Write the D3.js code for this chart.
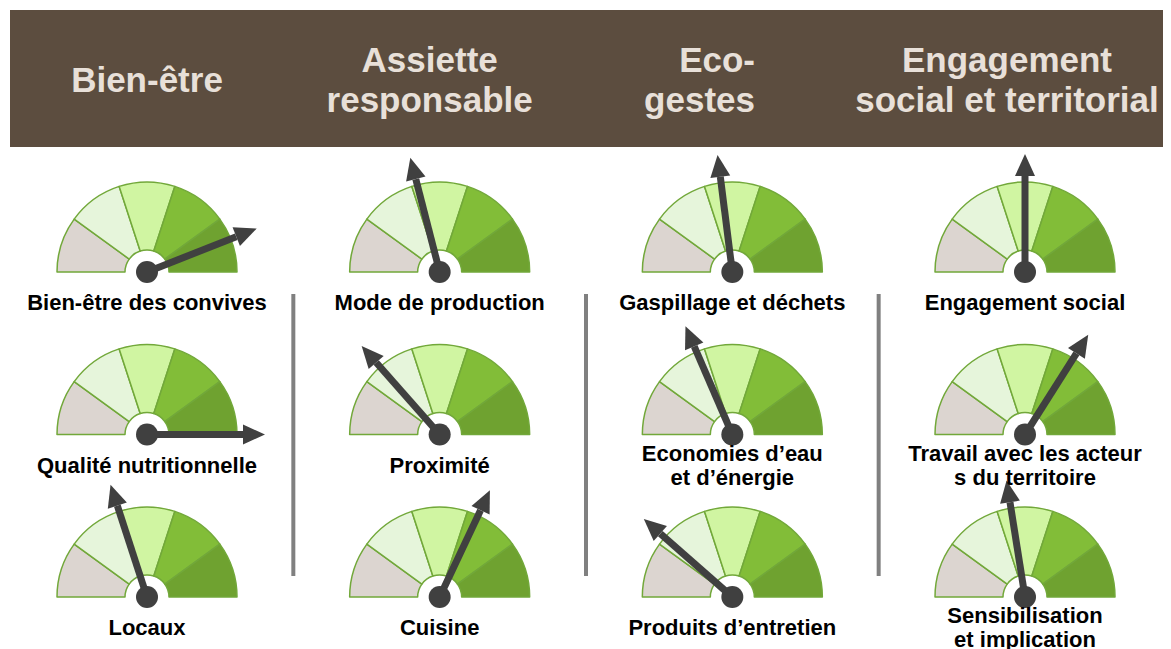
<!DOCTYPE html>
<html>
<head>
<meta charset="utf-8">
<script src="https://cdn.jsdelivr.net/npm/d3@7"></script>
<style>
  body { margin: 0; background: #fff; }
  svg { display: block; font-family: "Liberation Sans", Arial, sans-serif; }
</style>
</head>
<body>
<div id="chart"></div>
<script>
// Column headers (one entry per line)
const headers = [
  ["Bien-être"],
  ["Assiette", "responsable"],
  ["Eco-", "gestes"],
  ["Engagement", "social et territorial"]
];

// Gauge labels, column-by-column, top to bottom
const gaugeLabels = [
  ["Bien-être des convives"], ["Qualité nutritionnelle"], ["Locaux"],
  ["Mode de production"], ["Proximité"], ["Cuisine"],
  ["Gaspillage et déchets"], ["Economies d’eau", "et d’énergie"], ["Produits d’entretien"],
  ["Engagement social"], ["Travail avec les acteur", "s du territoire"], ["Sensibilisation", "et implication"]
];

// Needle values (0-100)
const gaugeValues = [
  88, 100, 40,
  42, 27, 64,
  46, 37, 23,
  50, 68, 45
];

// Gauge band limits and colours
const bandLimits = [0, 20, 40, 60, 80, 100];
const bandColors = ["#dcd5d0", "#e6f5db", "#d0f5a2", "#82bd38", "#6fa230"];

const W = 1171, H = 649;
const svg = d3.select("#chart").append("svg")
    .attr("width", W)
    .attr("height", H);

// 1. Header band
svg.append("rect")
    .attr("x", 10).attr("y", 10)
    .attr("width", 1153).attr("height", 137)
    .attr("fill", "#5c4d3f");

const colX = d3.scaleLinear().domain([0, 3]).range([147, 1025]);
const rowY = d3.scaleLinear().domain([0, 2]).range([272, 597]);

// header text (Eco-gestes is right aligned in the original)
headers.forEach((lines, i) => {
    const eco = i === 2;
    const t = svg.append("text")
        .attr("text-anchor", eco ? "end" : "middle")
        .style("font-size", "35px")
        .style("font-weight", "bold")
        .style("fill", "#e8e0d9");
    const x = eco ? 755 : colX(i) - (i === 1 ? 10 : i === 3 ? 18 : 0);
    const y0 = lines.length === 1 ? 92 : 72;
    lines.forEach((ln, j) => {
        t.append("tspan").attr("x", x).attr("y", y0 + j * 40).text(ln);
    });
});

// 2. Column dividers
[0, 1, 2].forEach(i => {
    const x = (colX(i) + colX(i + 1)) / 2;
    svg.append("line")
        .attr("x1", x).attr("x2", x)
        .attr("y1", 294).attr("y2", 576)
        .attr("stroke", "#808080")
        .attr("stroke-width", 4);
});

// 3. Gauges
const angle = d3.scaleLinear().domain([0, 100]).range([-Math.PI / 2, Math.PI / 2]);
const arc = d3.arc().innerRadius(22).outerRadius(90);
const needleLen = 118, headLen = 22, headHalf = 10;

gaugeValues.forEach((v, k) => {
    const col = Math.floor(k / 3), row = k % 3;
    const g = svg.append("g")
        .attr("transform", `translate(${colX(col)},${rowY(row)})`);

    g.selectAll("path.band")
        .data(bandColors)
        .enter().append("path")
        .attr("class", "band")
        .attr("d", (c, i) => arc({ startAngle: angle(bandLimits[i]), endAngle: angle(bandLimits[i + 1]) }))
        .attr("fill", c => c)
        .attr("stroke", "#72a83a")
        .attr("stroke-width", 1.5)
        .attr("stroke-linejoin", "round");

    // needle
    const a = angle(v);
    const ux = Math.sin(a), uy = -Math.cos(a);
    const bx = ux * (needleLen - headLen), by = uy * (needleLen - headLen);
    g.append("line")
        .attr("x1", 0).attr("y1", 0)
        .attr("x2", bx).attr("y2", by)
        .attr("stroke", "#404040")
        .attr("stroke-width", 7);
    g.append("path")
        .attr("d", `M${ux * needleLen},${uy * needleLen} L${bx - uy * headHalf},${by + ux * headHalf} L${bx + uy * headHalf},${by - ux * headHalf} Z`)
        .attr("fill", "#404040");
    g.append("circle")
        .attr("r", 11)
        .attr("fill", "#404040");
});

// 4. Gauge labels
gaugeLabels.forEach((lines, k) => {
    const col = Math.floor(k / 3), row = k % 3;
    const t = svg.append("text")
        .attr("text-anchor", "middle")
        .style("font-size", "22px")
        .style("font-weight", "bold")
        .style("fill", "#000");
    const y0 = rowY(row) + (lines.length === 1 ? 38 : 26);
    lines.forEach((ln, j) => {
        t.append("tspan").attr("x", colX(col)).attr("y", y0 + j * 24).text(ln);
    });
});
</script>
</body>
</html>
